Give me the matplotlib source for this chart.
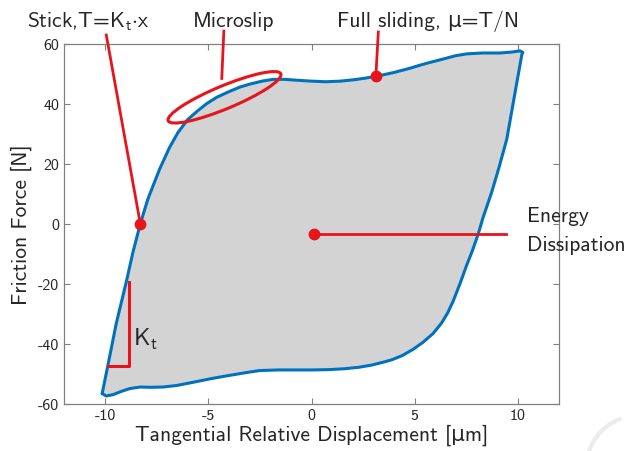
import numpy as np
import matplotlib
matplotlib.use("Agg")
import matplotlib.pyplot as plt
from matplotlib.patches import Ellipse, Arc

plt.rcParams['font.family'] = ['cmss10', 'DejaVu Sans']
plt.rcParams['axes.unicode_minus'] = False
plt.rcParams['mathtext.fontset'] = 'cm'

# loading branch (stick -> microslip -> full sliding)
upper_x = [-10.15, -9.87, -9.47, -8.98, -8.66, -8.3, -7.93, -7.36, -6.88, -6.47, -6.0,
           -5.5, -5.1, -4.6, -4.0, -3.48, -3.0, -2.4, -1.86, -1.3, -0.7, 0.0, 0.7, 1.4,
           2.1, 2.6, 3.12, 3.6, 4.0, 4.77, 5.2, 5.6, 6.0, 6.39, 7.0, 7.52, 8.3, 9.14, 9.7,
           10.11, 10.25]
upper_y = [-56.7, -47.2, -33.4, -19.4, -9.6, 0.0, 8.3, 18.3, 25.5, 30.5, 34.8,
           37.8, 40.0, 42.2, 44.1, 45.6, 46.6, 47.6, 48.2, 48.2, 47.9, 47.6, 47.4, 47.6,
           48.1, 48.6, 49.2, 49.9, 50.5, 51.9, 52.8, 53.6, 54.3, 55.0, 56.1, 56.7, 57.0,
           57.0, 57.3, 57.7, 57.2]

# unloading branch
lower_x = [10.2, 9.9, 9.47, 9.1, 8.74, 8.3, 8.09, 7.8, 7.52, 7.2, 6.87, 6.6, 6.3, 5.9,
           5.4, 4.93, 4.4, 3.9, 3.48, 2.9, 2.3, 1.6, 0.8, 0.0, -0.8, -1.6, -2.51, -3.1,
           -3.7, -4.3, -4.94, -5.8, -6.55, -7.2, -7.8, -8.3, -8.8, -9.2, -9.6, -9.95,
           -10.15]
lower_y = [56.5, 45.0, 28.3, 19.0, 10.6, 1.7, -3.3, -9.0, -13.9, -20.0, -25.8, -29.8,
           -33.2, -36.6, -39.6, -41.9, -44.0, -45.4, -46.2, -47.2, -47.9, -48.4, -48.7,
           -48.8, -48.8, -48.8, -49.0, -49.6, -50.3, -51.0, -51.8, -53.0, -54.0, -54.5,
           -54.6, -54.5, -55.0, -55.9, -57.0, -57.5, -56.7]

x_ticks = [-10, -5, 0, 5, 10]
y_ticks = [-60, -40, -20, 0, 20, 40, 60]

# annotation anchor points (data units)
stick_pt = (-8.3, 0)
slide_pt = (3.12, 49.2)
energy_pt = (0.11, -3.3)
kt_x = [-9.87, -8.87, -8.87]
kt_y = [-47.4, -47.4, -19.4]

blue = '#0072BD'
red = '#e8141c'
W, H = 631, 452

fig = plt.figure(figsize=(W / 100, H / 100), dpi=100)
ax = fig.add_axes([64 / W, 1 - 404.5 / H, (559 - 64) / W, (404.5 - 45) / H])

loop_x = upper_x + lower_x
loop_y = upper_y + lower_y
ax.fill(loop_x, loop_y, color='#d3d3d3', lw=0, zorder=1)
ax.plot(loop_x, loop_y, color=blue, lw=2.2, zorder=3,
        solid_joinstyle='round', solid_capstyle='round')

ax.set_xlim(-12, 12)
ax.set_ylim(-60, 60)
ax.set_xticks(x_ticks)
ax.set_yticks(y_ticks)
ax.tick_params(direction='in', length=4, top=True, right=True, labelsize=11.5,
               colors='#808080', labelcolor='#262626', width=0.8)
for s in ax.spines.values():
    s.set_color('#808080')
    s.set_linewidth(0.9)
ax.set_xlabel('Tangential Relative Displacement [μm]', fontsize=15.5, color='#262626', labelpad=1)
ax.set_ylabel('Friction Force [N]', fontsize=15.5, color='#262626', labelpad=4)

# annotations
lkw = dict(color=red, lw=2.0, clip_on=False, zorder=5)
ax.plot([-9.95, stick_pt[0]], [63.0, stick_pt[1]], **lkw)
ax.plot(*stick_pt, 'o', color=red, ms=7.5, zorder=6)
ax.plot([-4.25, -4.35], [64.3, 48.5], **lkw)
ax.plot([3.24, slide_pt[0]], [64.0, slide_pt[1]], **lkw)
ax.plot(*slide_pt, 'o', color=red, ms=7.5, zorder=6)
ax.plot([energy_pt[0], 9.42], [energy_pt[1], energy_pt[1]], **lkw)
ax.plot(*energy_pt, 'o', color=red, ms=7.5, zorder=6)
ax.plot(kt_x, kt_y, color=red, lw=2.2, zorder=4)

ell = Ellipse((224.5 / 100, (H - 98.3) / 100), 1.22, 0.23, angle=22.6,
              transform=fig.dpi_scale_trans, fill=False, ec=red, lw=2.2, zorder=7)
fig.add_artist(ell)

def ftext(px, py, s, size=15.5, **kw):
    fig.text(px / W, 1 - py / H, s, fontsize=size, color='#262626', **kw)

ftext(88, 27, r'Stick,T=K$_\mathsf{t}$$\cdot$x', ha='center', va='baseline')
ftext(234, 27, 'Microslip', ha='center', va='baseline')
ftext(428, 27, 'Full sliding, μ=T/N', ha='center', va='baseline')
ftext(527, 222, 'Energy', ha='left', va='baseline')
ftext(527, 251, 'Dissipation', ha='left', va='baseline')
ftext(133, 346, r'K$_\mathsf{t}$', size=17, ha='left', va='baseline')

# faint watermark arc in the corner
arc = Arc((640 / 100, (H - 470) / 100), 1.08, 1.08, theta1=110, theta2=200,
          transform=fig.dpi_scale_trans, color='#ececec', lw=3)
fig.add_artist(arc)

fig.savefig('out.png', dpi=100)
